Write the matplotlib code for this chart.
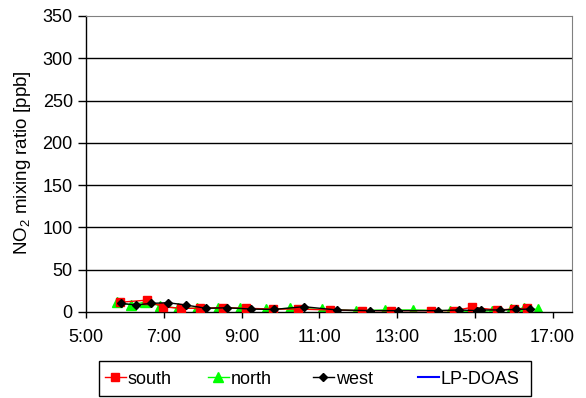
import matplotlib
matplotlib.use("Agg")
import matplotlib.pyplot as plt
from matplotlib.ticker import FixedLocator
from matplotlib.lines import Line2D
from matplotlib.patches import Rectangle

plt.rcParams['font.family'] = ['Liberation Sans', 'DejaVu Sans']
plt.rcParams['mathtext.fontset'] = 'custom'
plt.rcParams['mathtext.rm'] = 'Liberation Sans'
plt.rcParams['mathtext.it'] = 'Liberation Sans:italic'

# Measurement times (decimal hours) and NO2 mixing ratios (ppb)
south_t = [5.87, 6.56, 6.98, 7.45, 7.92, 8.52, 9.12, 9.80, 10.44, 11.27, 12.11,
           12.85, 13.88, 14.46, 14.93, 15.57, 16.00, 16.34]
south_v = [11.5, 14.0, 6.0, 4.4, 4.4, 5.0, 4.4, 3.5, 3.5, 2.4, 1.6,
           1.6, 1.6, 1.6, 5.5, 2.4, 3.5, 4.4]

north_t = [5.80, 6.15, 6.51, 6.91, 7.37, 7.86, 8.39, 8.97, 9.63, 10.25, 11.07,
           11.94, 12.69, 13.41, 14.35, 15.08, 15.44, 15.92, 16.27, 16.62]
north_v = [11.5, 8.3, 11.5, 7.5, 4.4, 4.4, 4.4, 4.4, 3.0, 4.4, 3.0,
           1.6, 2.4, 2.4, 1.6, 0.4, 1.6, 3.0, 4.4, 3.0]

west_t = [5.91, 6.28, 6.68, 7.11, 7.56, 8.09, 8.63, 9.25, 9.83, 10.60, 11.45,
          12.31, 13.03, 14.05, 14.59, 15.06, 15.17, 15.66, 16.06, 16.43]
west_v = [10.2, 8.3, 10.2, 11.0, 8.3, 4.4, 5.0, 3.5, 3.0, 6.3, 2.4,
          1.6, 1.6, 1.6, 2.4, 1.6, 2.4, 2.4, 3.0, 3.5]

lpdoas_t = []
lpdoas_v = []

series_labels = ['south', 'north', 'west', 'LP-DOAS']
x_ticks = [5, 7, 9, 11, 13, 15, 17]
x_labels = ["5:00", "7:00", "9:00", "11:00", "13:00", "15:00", "17:00"]
y_ticks = [0, 50, 100, 150, 200, 250, 300, 350]

W, H = 586, 398
FS = 13

fig = plt.figure(figsize=(W / 100, H / 100), dpi=100)
ax = fig.add_axes([86 / W, 1 - 312 / H, (572 - 86) / W, (312 - 16) / H])

h_south, = ax.plot(south_t, south_v, color='#FF0000', marker='s', markersize=5.5,
                   linewidth=1.0, label=series_labels[0], zorder=3)
h_north, = ax.plot(north_t, north_v, color='#00FF00', marker='^', markersize=6.5,
                   linewidth=1.0, label=series_labels[1], zorder=2)
h_west, = ax.plot(west_t, west_v, color='black', marker='D', markersize=3.8,
                  linewidth=1.0, label=series_labels[2], zorder=4)
h_lp, = ax.plot(lpdoas_t, lpdoas_v, color='#0000FF', linewidth=1.5,
                label=series_labels[3])

ax.set_xlim(5, 17.5)
ax.set_ylim(0, 350)
ax.xaxis.set_major_locator(FixedLocator(x_ticks))
ax.set_xticklabels(x_labels)
ax.yaxis.set_major_locator(FixedLocator(y_ticks))

for y in y_ticks[1:-1]:
    ax.axhline(y, color='black', linewidth=1.0, zorder=1)

for side in ('top', 'right'):
    ax.spines[side].set_color('#808080')
    ax.spines[side].set_linewidth(0.8)
for side in ('left', 'bottom'):
    ax.spines[side].set_color('black')
    ax.spines[side].set_linewidth(1.0)

ax.tick_params(axis='y', direction='out', length=5.5, width=1.0,
               labelsize=FS, colors='black', pad=4)
ax.tick_params(axis='x', direction='out', length=4.5, width=1.0,
               labelsize=FS, colors='black', pad=8)
ax.set_ylabel('NO$_2$ mixing ratio [ppb]', fontsize=FS + 0.5)
ax.yaxis.set_label_coords((33 - 86) / 486, 0.503)

# Legend: framed box along the bottom with evenly spaced entries
fig.add_artist(Rectangle((99 / W, 1 - 396 / H), (531 - 99) / W, (396 - 361) / H,
                         transform=fig.transFigure, fill=True, facecolor='white',
                         edgecolor='black', linewidth=1.0))
entry_x = [105, 208, 313, 418]
handles = [h_south, h_north, h_west, h_lp]
for hx, hd, lab in zip(entry_x, handles, series_labels):
    fig.legend(handles=[hd], labels=[lab], loc='center left',
               bbox_to_anchor=(hx / W, 1 - 379 / H), frameon=False,
               fontsize=FS, handlelength=1.15, handletextpad=0.12,
               borderpad=0, borderaxespad=0)

fig.savefig('out.png', dpi=100)
